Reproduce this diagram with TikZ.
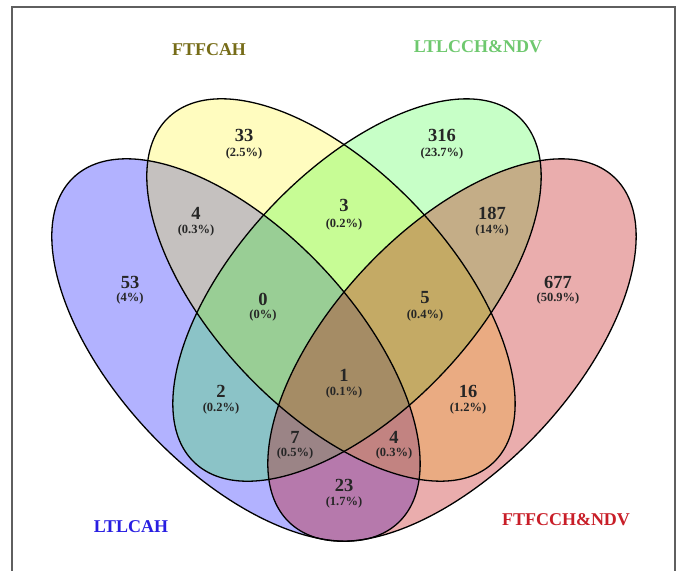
\documentclass[tikz,border=0pt]{standalone}
\usepackage{fontspec}
\setmainfont{Liberation Serif}
\definecolor{ttlyellow}{RGB}{118,108,24}
\definecolor{ttlgreen}{RGB}{110,200,110}
\definecolor{ttlblue}{RGB}{40,30,225}
\definecolor{ttlred}{RGB}{200,30,40}
\definecolor{framegray}{RGB}{95,95,95}
\definecolor{setred}{RGB}{190,0,0}

\begin{document}
\begin{tikzpicture}[x=1pt,y=1pt,
  num/.style={font=\bfseries\fontsize{18.5}{18.5}\selectfont,text=black!85,inner sep=0pt},
  pct/.style={font=\bfseries\fontsize{12.5}{13}\selectfont,text=black!85,inner sep=0pt},
  ttl/.style={font=\bfseries\fontsize{18}{18}\selectfont,inner sep=0pt},
  setline/.style={draw=black,line width=1.3pt}]
\useasboundingbox (0,0) rectangle (681,571);
\draw[framegray,line width=2pt](12,0)--(12,563.5)--(675,563.5)--(675,0);
\coordinate (A) at (236,221);
\coordinate (B) at (331,281);
\coordinate (C) at (357,281);
\coordinate (D) at (452,221);
\fill[blue,fill opacity=0.3,rotate around={-46.8:(A)}](A) ellipse [x radius=237pt,y radius=119.5pt];
\fill[yellow,fill opacity=0.25,rotate around={-46.8:(B)}](B) ellipse [x radius=237pt,y radius=119.5pt];
\fill[green,fill opacity=0.22,rotate around={46.8:(C)}](C) ellipse [x radius=237pt,y radius=119.5pt];
\fill[setred,fill opacity=0.32,rotate around={46.8:(D)}](D) ellipse [x radius=237pt,y radius=119.5pt];
\draw[setline,rotate around={-46.8:(A)}](A) ellipse [x radius=237pt,y radius=119.5pt];
\draw[setline,rotate around={-46.8:(B)}](B) ellipse [x radius=237pt,y radius=119.5pt];
\draw[setline,rotate around={46.8:(C)}](C) ellipse [x radius=237pt,y radius=119.5pt];
\draw[setline,rotate around={46.8:(D)}](D) ellipse [x radius=237pt,y radius=119.5pt];
\node[ttl,text=ttlyellow] (tB) at (209,521) {FTFCAH};
\node[ttl,text=ttlgreen] (tC) at (478,524) {LTLCCH\&NDV};
\node[ttl,text=ttlblue] (tA) at (131,44) {LTLCAH};
\node[ttl,text=ttlred] (tD) at (566,51) {FTFCCH\&NDV};
\node[num] (n33) at (244,436) {33};
\node[pct] (p33) at (244,418) {(2.5\%)};
\node[num] (n316) at (442,436) {316};
\node[pct] (p316) at (442,418) {(23.7\%)};
\node[num] (n4a) at (196,358) {4};
\node[pct] (p4a) at (196,341) {(0.3\%)};
\node[num] (n3) at (344,366) {3};
\node[pct] (p3) at (344,347) {(0.2\%)};
\node[num] (n187) at (492,358) {187};
\node[pct] (p187) at (492,341) {(14\%)};
\node[num] (n53) at (130,289) {53};
\node[pct] (p53) at (130,273) {(4\%)};
\node[num] (n0) at (263,272) {0};
\node[pct] (p0) at (263,256) {(0\%)};
\node[num] (n5) at (425,273) {5};
\node[pct] (p5) at (425,256) {(0.4\%)};
\node[num] (n677) at (558,289) {677};
\node[pct] (p677) at (558,273) {(50.9\%)};
\node[num] (n2) at (221,180) {2};
\node[pct] (p2) at (221,163) {(0.2\%)};
\node[num] (n1) at (344,196) {1};
\node[pct] (p1) at (344,179) {(0.1\%)};
\node[num] (n16) at (468,180) {16};
\node[pct] (p16) at (468,163) {(1.2\%)};
\node[num] (n7) at (295,134) {7};
\node[pct] (p7) at (295,118) {(0.5\%)};
\node[num] (n4b) at (394,134) {4};
\node[pct] (p4b) at (394,118) {(0.3\%)};
\node[num] (n23) at (344,86) {23};
\node[pct] (p23) at (344,69) {(1.7\%)};
\end{tikzpicture}
\end{document}
